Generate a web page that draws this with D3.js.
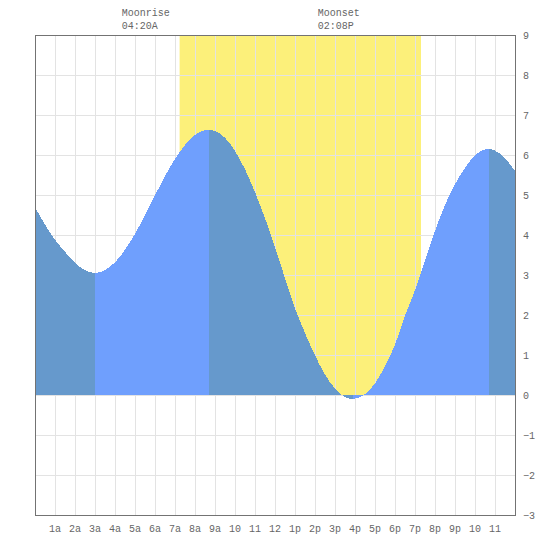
<!DOCTYPE html>
<html>
<head>
<meta charset="utf-8">
<script src="https://cdn.jsdelivr.net/npm/d3@7"></script>
<style>
  body { margin: 0; background: #fff; }
  text { font-family: "Liberation Mono", "DejaVu Sans Mono", monospace; font-size: 10px; fill: #666; }
</style>
</head>
<body>
<div id="chart"></div>
<script>
// tide height (ft) by hour of day
const tideHours = [0, 0.5, 1, 1.5, 2, 2.5, 3, 3.5, 4, 4.5, 5, 5.5, 6, 6.5, 7, 7.5, 8, 8.5, 8.7,
    9, 9.5, 10, 10.5, 11, 11.5, 12, 12.5, 13, 13.5, 14, 14.5, 15, 15.5, 15.9,
    16.5, 17, 17.5, 18, 18.5, 19, 19.5, 20, 20.5, 21, 21.5, 22, 22.5, 22.7, 23, 23.5, 24];
const tideHeights = [4.7, 4.26, 3.88, 3.58, 3.3, 3.12, 3.05, 3.12, 3.32, 3.63, 4.03, 4.5, 4.99, 5.47, 5.9, 6.25, 6.5, 6.62, 6.63,
    6.6, 6.43, 6.1, 5.64, 5.07, 4.42, 3.7, 2.92, 2.17, 1.55, 0.99, 0.51, 0.16, -0.05, -0.1,
    0.02, 0.29, 0.72, 1.26, 1.98, 2.62, 3.35, 4.1, 4.75, 5.27, 5.68, 5.99, 6.14, 6.15, 6.11, 5.92, 5.6];

// high / low turning points split the fill into falling and rising parts
const turnHours = [0, 3.0, 8.7, 15.9, 22.7, 24];
const turnPhase = ["falling", "rising", "falling", "rising", "falling"];

const daylight = [7.23, 19.3];

const moonEvents = [
    { label: "Moonrise", time: "04:20A", hour: 4 + 20 / 60 },
    { label: "Moonset", time: "02:08P", hour: 14 + 8 / 60 }
];

const hourLabels = ["1a", "2a", "3a", "4a", "5a", "6a", "7a", "8a", "9a", "10", "11", "12",
    "1p", "2p", "3p", "4p", "5p", "6p", "7p", "8p", "9p", "10", "11"];
const heightTicks = [-3, -2, -1, 0, 1, 2, 3, 4, 5, 6, 7, 8, 9];

const colors = { falling: "#6699cc", rising: "#6f9ffd", day: "#fcf07a", grid: "#e3e3e3", frame: "#737373" };

const width = 550, height = 550;
const plot = { left: 35, right: 515, top: 35, bottom: 515 };

const svg = d3.select("#chart").append("svg")
    .attr("width", width)
    .attr("height", height);

const x = d3.scaleLinear().domain([0, 24]).range([plot.left, plot.right]);
const y = d3.scaleLinear().domain([-3, 9]).range([plot.bottom, plot.top]);

// daylight band, only above the zero line
svg.append("rect")
    .attr("x", x(daylight[0]))
    .attr("y", plot.top)
    .attr("width", x(daylight[1]) - x(daylight[0]))
    .attr("height", y(0) - plot.top)
    .attr("fill", colors.day);

// grid
svg.append("g").selectAll("line")
    .data(d3.range(1, 24))
    .enter().append("line")
    .attr("x1", d => x(d) + 0.5).attr("x2", d => x(d) + 0.5)
    .attr("y1", plot.top).attr("y2", plot.bottom)
    .attr("stroke", colors.grid);

svg.append("g").selectAll("line")
    .data(heightTicks.slice(1, -1))
    .enter().append("line")
    .attr("x1", plot.left).attr("x2", plot.right)
    .attr("y1", d => y(d) + 0.5).attr("y2", d => y(d) + 0.5)
    .attr("stroke", colors.grid);

// tide fill
const tide = tideHours.map((h, i) => ({ h, v: tideHeights[i] }));

const area = d3.area()
    .x(d => x(d.h))
    .y0(y(0))
    .y1(d => y(d.v))
    .curve(d3.curveMonotoneX);

const defs = svg.append("defs");

turnPhase.forEach((phase, i) => {
    defs.append("clipPath")
        .attr("id", "seg" + i)
        .append("rect")
        .attr("x", x(turnHours[i]))
        .attr("y", plot.top)
        .attr("width", x(turnHours[i + 1]) - x(turnHours[i]))
        .attr("height", plot.bottom - plot.top);

    svg.append("path")
        .datum(tide)
        .attr("d", area)
        .attr("clip-path", `url(#seg${i})`)
        .attr("fill", colors[phase])
        .attr("shape-rendering", "crispEdges");
});

// frame
svg.append("rect")
    .attr("x", plot.left + 0.5)
    .attr("y", plot.top + 0.5)
    .attr("width", plot.right - plot.left)
    .attr("height", plot.bottom - plot.top)
    .attr("fill", "none")
    .attr("stroke", colors.frame);

// axes labels
svg.append("g").selectAll("text")
    .data(hourLabels)
    .enter().append("text")
    .attr("x", (d, i) => x(i + 1))
    .attr("y", plot.bottom + 17)
    .attr("text-anchor", "middle")
    .text(d => d);

svg.append("g").selectAll("text")
    .data(heightTicks)
    .enter().append("text")
    .attr("x", plot.right + 8)
    .attr("y", d => y(d) + 4)
    .text(d => d < 0 ? "−" + Math.abs(d) : d);

// moon events
moonEvents.forEach(m => {
    svg.append("text").attr("x", x(m.hour)).attr("y", 16).text(m.label);
    svg.append("text").attr("x", x(m.hour)).attr("y", 29).text(m.time);
});
</script>
</body>
</html>
